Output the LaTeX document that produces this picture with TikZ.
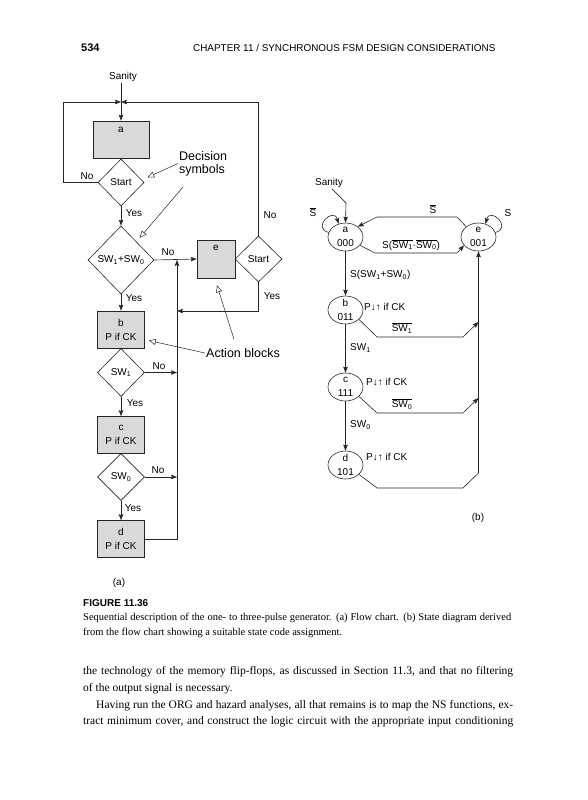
\documentclass[tikz,border=0pt]{standalone}
\usepackage{fontspec}
\setmainfont{Liberation Serif}
\newfontfamily\figf{Liberation Sans}
\usepackage{tikz}
\usetikzlibrary{shapes.geometric,arrows.meta,positioning,calc}
\newcommand{\dgf}{\figf\fontsize{10}{14}\selectfont}
\newcommand{\bigf}{\figf\fontsize{12.5}{13}\selectfont}
\newcommand{\bodyf}{\fontsize{11.5}{16.5}\selectfont}
\newcommand{\capf}{\fontsize{10.5}{12}\selectfont}
\newcommand{\nb}[1]{$\overline{\mbox{#1}}$}

\begin{document}
\begin{tikzpicture}[
  x=1pt, y=1pt,
  box/.style={draw=black!85, fill=gray!30, line width=0.6pt,
              minimum width=47, minimum height=37, align=center, font=\dgf},
  dec/.style={draw=black!85, diamond, line width=0.6pt, inner sep=0pt,
              align=center, font=\dgf},
  st/.style={draw=black!85, ellipse, line width=0.6pt, inner sep=-1pt,
             minimum width=35, minimum height=28, align=center, font=\dgf},
  arr/.style={-{Stealth[length=6pt, width=4.5pt, inset=1pt]}, line width=0.6pt, draw=black!85},
  note/.style={-{Triangle[open, length=7pt, width=6pt]}, line width=0.5pt, draw=black!85},
  txt/.style={font=\dgf, inner sep=1pt},
  big/.style={font=\bigf, align=left, inner sep=1pt},
  line/.style={anchor=base west, inner sep=0pt}
]
\useasboundingbox (0,0) rectangle (587,-800);

% running head
\node[line, font=\figf\bfseries\fontsize{11}{13}\selectfont] (pg) at (81,-52) {534};
\node[line, font=\figf\fontsize{9.9}{12}\selectfont] (hd) at (193,-52) {CHAPTER 11 / SYNCHRONOUS FSM DESIGN CONSIDERATIONS};

% (a) flow chart
\node[txt] (sanA) at (123,-77) {Sanity};
\coordinate (jn) at (121,-102);
\node[box, minimum width=56, label={[anchor=north, inner sep=6pt, font=\dgf]north:a}] (a) at (121,-139.5) {};
\node[dec, minimum width=46, minimum height=47] (st1) at (121,-182.5) {Start};
\node[dec, minimum width=66, minimum height=68] (sw) at (121,-260) {SW\textsubscript{1}+SW\textsubscript{0}};
\node[box, minimum width=38, minimum height=38, label={[anchor=north, inner sep=5pt, font=\dgf]north:e}] (e) at (216,-259) {};
\node[dec, minimum width=47, minimum height=46] (st2) at (258.5,-259) {Start};
\node[box] (b) at (121,-329.5) {b\\P if CK};
\node[dec, minimum width=47, minimum height=48] (sw1) at (121,-372.5) {SW\textsubscript{1}};
\node[box] (c) at (121,-435) {c\\P if CK};
\node[dec, minimum width=47, minimum height=47] (sw0) at (121,-477) {SW\textsubscript{0}};
\node[box] (d) at (121,-539) {d\\P if CK};

\node[txt] (no1) at (87,-176) {No};
\node[txt] (yes1) at (134,-213) {Yes};
\node[txt] (no2) at (168,-252) {No};
\node[txt] (yes2) at (134,-298) {Yes};
\node[txt] (no3) at (270,-215) {No};
\node[txt] (yes3) at (272,-296) {Yes};
\node[txt] (no4) at (159,-366) {No};
\node[txt] (yes4) at (135,-403) {Yes};
\node[txt] (no5) at (158,-470) {No};
\node[txt] (yes5) at (133,-508) {Yes};

\draw[arr] (a.north |- sanA.south) -- (a.north);
\draw[arr] (st1.west) -- ++(-34,0) |- (jn);
\draw[arr] (st2.north) |- (jn);
\draw[arr] (st1.south) -- (sw.north);
\draw[arr] (sw.east) -- (e.west);
\draw[arr] (sw.south) -- (b.north);
\draw[arr] (sw1.south) -- (c.north);
\draw[arr] (sw0.south) -- (d.north);
\coordinate (col) at (177,-260);
\coordinate (coly) at (177,-311);
\draw[arr] (st2.south) |- (coly);
\draw[arr] (sw1.east) -- (sw1.east -| col);
\draw[arr] (sw0.east) -- (sw0.east -| col);
\draw[arr] (d.east) -| (col);

\node[big] (decn) at (203,-163.5) {Decision\\symbols};
\draw[note] (decn.west) -- ([shift={(3,5)}]st1.east);
\draw[note] ([shift={(-20,-10)}]decn.south) -- ([shift={(2,5)}]sw.north east);
\node[big] (actn) at (243,-353) {Action blocks};
\draw[note] (actn.west) -- ([shift={(4,-11)}]b.east);
\draw[note] ([shift={(29,8)}]actn.north west) -- ([shift={(1,-7)}]e.south);
\node[txt] (capa) at (119,-583) {(a)};

% (b) state diagram
\node[txt] (sanB) at (329,-183) {Sanity};
\node[st] (sa) at (345.5,-237) {a\\000};
\node[st] (se) at (478.5,-237) {e\\001};
\node[st] (sb) at (345.5,-310) {b\\011};
\node[st] (sc) at (345.5,-387) {c\\111};
\node[st] (sd) at (345.5,-465) {d\\101};

\draw[arr] ([xshift=3]sanB.south) -- ++(14,-14) -- (sa.north);
\draw[arr] (sa.165) .. controls +(165:18) and +(105:18) .. (sa.118);
\node[txt] (sbar1) at (313,-212) {\nb{S}};
\draw[arr] (se.15) .. controls +(15:18) and +(75:18) .. (se.62);
\node[txt] (s2) at (508,-213) {S};

\draw[arr] (se.140) -- (457,-217) -- (377,-217) -- (sa.40);
\node[txt] (lea) at (433,-209) {\nb{S}};
\draw[arr] (sa.-30) -- (375,-253) -- (457,-253) -- (se.-150);
\node[txt] (lae) at (411,-245) {S(\nb{SW\textsubscript{1}}·\nb{SW\textsubscript{0}})};
\draw[arr] (sa) -- (sb);
\node[txt, anchor=west] (lab) at (349,-275) {S(SW\textsubscript{1}+SW\textsubscript{0})};

\coordinate (jb) at (se.south |- 0,-322);
\coordinate (jc) at (se.south |- 0,-398);
\coordinate (jd) at (se.south |- 0,-473);
\node[txt, anchor=west] (pb) at (363,-307) {P↓↑ if CK};
\draw[arr] (sb.-35) -- (377,-337) -- (463,-337) -- (jb);
\node[txt] (lb) at (402,-328) {\nb{SW\textsubscript{1}}};
\draw[arr] (sb) -- (sc);
\node[txt, anchor=west] (lbc) at (349,-348) {SW\textsubscript{1}};
\node[txt, anchor=west] (pc) at (365,-382) {P↓↑ if CK};
\draw[arr] (sc.-35) -- (377,-413) -- (463,-413) -- (jc);
\node[txt] (lc) at (402,-404) {\nb{SW\textsubscript{0}}};
\draw[arr] (sc) -- (sd);
\node[txt, anchor=west] (lcd) at (349,-425) {SW\textsubscript{0}};
\node[txt, anchor=west] (pd) at (365,-457) {P↓↑ if CK};
\draw[arr] (sd.-35) -- (377,-488) -- (463,-488) -- (jd) -- (se.south);
\node[txt] (capb) at (478,-518) {(b)};

% caption and text
\node[line, font=\figf\bfseries\fontsize{10}{12}\selectfont] (fig) at (83,-606) {FIGURE 11.36};
\node[line, font=\capf] (cap1) at (83,-620.5) {\makebox[428pt][s]{Sequential description of the one- to three-pulse generator. (a) Flow chart. (b) State diagram derived}};
\node[line, font=\capf] (cap2) at (83,-635.5) {from the flow chart showing a suitable state code assignment.};
\node[line, font=\bodyf] (l1) at (83,-674.5) {\makebox[430pt][s]{the technology of the memory flip-flops, as discussed in Section 11.3, and that no filtering}};
\node[line, font=\bodyf] (l2) at (83,-691) {of the output signal is necessary.};
\node[line, font=\bodyf] (l3) at (83,-708) {\makebox[430pt][s]{\hspace*{13pt}Having run the ORG and hazard analyses, all that remains is to map the NS functions, ex-}};
\node[line, font=\bodyf] (l4) at (83,-724.5) {\makebox[430pt][s]{tract minimum cover, and construct the logic circuit with the appropriate input conditioning}};
\end{tikzpicture}
\end{document}
